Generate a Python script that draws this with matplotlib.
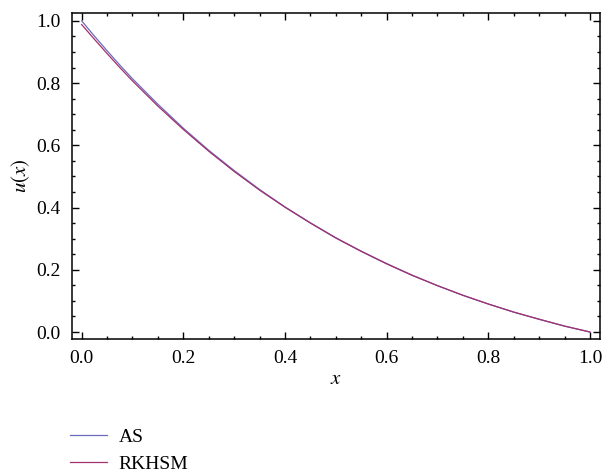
import matplotlib
matplotlib.use("Agg")
import matplotlib.pyplot as plt
from matplotlib.ticker import MultipleLocator

# values
x = [0.0, 0.025, 0.05, 0.075, 0.10, 0.15, 0.20, 0.25, 0.30, 0.35, 0.40, 0.45, 0.50,
     0.55, 0.60, 0.65, 0.70, 0.75, 0.80, 0.85, 0.90, 0.95, 1.0]
u_as = [1.000, 0.951, 0.904, 0.858, 0.814, 0.732, 0.655, 0.584, 0.519, 0.458, 0.402, 0.351, 0.303,
        0.260, 0.220, 0.183, 0.149, 0.118, 0.090, 0.064, 0.041, 0.019, 0.0]
u_rkhsm = [0.988, 0.941, 0.895, 0.850, 0.807, 0.726, 0.651, 0.581, 0.516, 0.456, 0.401, 0.350, 0.302,
           0.259, 0.219, 0.182, 0.149, 0.118, 0.090, 0.064, 0.041, 0.019, 0.0]
labels = ["AS", "RKHSM"]
colors = ["#6b6bbd", "#a0306e"]

plt.rcParams["font.family"] = ["Liberation Serif", "DejaVu Serif"]
plt.rcParams["mathtext.fontset"] = "stix"

fig = plt.figure(figsize=(6.02, 4.75), dpi=100)
ax = fig.add_axes([0.1196, 0.2863, 0.877, 0.686])

l1, = ax.plot(x, u_as, color=colors[0], lw=0.9, label=labels[0])
l2, = ax.plot(x, u_rkhsm, color=colors[1], lw=0.9, label=labels[1])

ax.set_xlim(-0.019, 1.0197)
ax.set_ylim(-0.0225, 1.0247)
ax.xaxis.set_major_locator(MultipleLocator(0.2))
ax.xaxis.set_minor_locator(MultipleLocator(0.05))
ax.yaxis.set_major_locator(MultipleLocator(0.2))
ax.yaxis.set_minor_locator(MultipleLocator(0.05))
ax.xaxis.set_major_formatter(plt.FormatStrFormatter("%.1f"))
ax.yaxis.set_major_formatter(plt.FormatStrFormatter("%.1f"))
ax.tick_params(which="both", direction="in", top=True, right=True, width=1.0,
               labelsize=14, pad=8)
ax.tick_params(which="major", length=5)
ax.tick_params(which="minor", length=2.5)
for s in ax.spines.values():
    s.set_linewidth(1.1)

ax.set_xlabel(r"$x$", fontsize=15, labelpad=2)
ax.set_ylabel(r"$u(x)$", fontsize=15, labelpad=3)

fig.legend(handles=[l1, l2], loc="upper left", bbox_to_anchor=(0.103, 0.115),
           frameon=False, fontsize=14, handlelength=1.9, handletextpad=0.6,
           labelspacing=0.5, borderaxespad=0)

fig.savefig("out.png", dpi=100)
